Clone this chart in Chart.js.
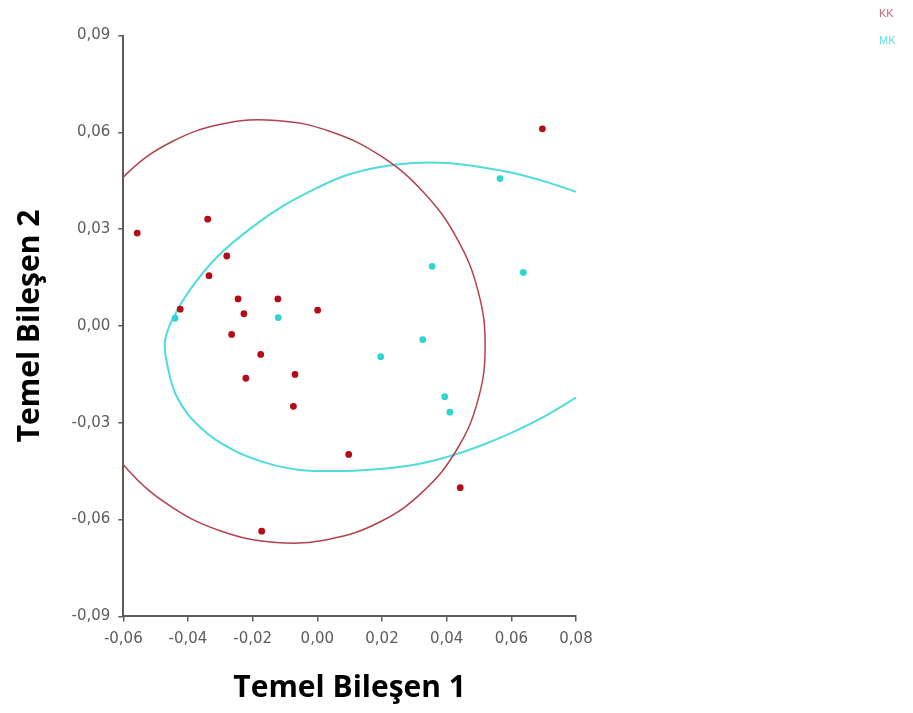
<!DOCTYPE html>
<html>
<head>
<meta charset="utf-8">
<script src="https://cdn.jsdelivr.net/npm/chart.js@4.4.1/dist/chart.umd.min.js"></script>
<style>
  html, body { margin: 0; padding: 0; background: #fff; }
</style>
</head>
<body>
<canvas id="pcaChart" width="913" height="713"></canvas>
<script>
// --- Data ---
const groupNames = ['KK', 'MK'];
const groupColors = ['#b50c1a', '#2fd5d0'];
const legendColors = ['#c46a78', '#5fe2e2'];

// KK scores (Temel Bileşen 1, Temel Bileşen 2)
const kkX = [-0.0557, -0.0339, -0.0280, -0.0335, -0.0424, -0.0245, -0.0227, -0.0122, 0.0001,
             -0.0265, -0.0175, -0.0221, -0.0069, -0.0074, 0.0097, -0.0172, 0.0442, 0.0696];
const kkY = [0.0288, 0.0331, 0.0217, 0.0156, 0.0052, 0.0084, 0.0038, 0.0084, 0.0049,
             -0.0026, -0.0088, -0.0162, -0.0150, -0.0249, -0.0398, -0.0636, -0.0501, 0.0611];

// MK scores
const mkX = [-0.0440, -0.0121, 0.0565, 0.0355, 0.0637, 0.0326, 0.0196, 0.0394, 0.0410];
const mkY = [0.0024, 0.0026, 0.0457, 0.0185, 0.0166, -0.0042, -0.0095, -0.0219, -0.0267];

// KK confidence ellipse, traced all the way round (the part left of -0,06 is clipped)
const kkEllipseX = [-0.0773, -0.0751, -0.0686, -0.0584, -0.0450, -0.0294, -0.0127, 0.0040, 0.0196,
                    0.0329, 0.0432, 0.0497, 0.0519, 0.0497, 0.0432, 0.0329, 0.0196, 0.0040,
                    -0.0127, -0.0294, -0.0450, -0.0584, -0.0686, -0.0751, -0.0773];
const kkEllipseY = [0.0027, 0.0195, 0.0348, 0.0477, 0.0571, 0.0626, 0.0637, 0.0603, 0.0527,
                    0.0414, 0.0271, 0.0109, -0.0062, -0.0229, -0.0382, -0.0511, -0.0606, -0.0660,
                    -0.0671, -0.0637, -0.0561, -0.0448, -0.0305, -0.0143, 0.0027];

// MK confidence ellipse, visible part only (it runs off the right edge)
const mkEllipseX = [0.0800, 0.0710, 0.0605, 0.0503, 0.0401, 0.0296, 0.0194, 0.0092, -0.0001, -0.0106,
                    -0.0208, -0.0310, -0.0394, -0.0446, -0.0471, -0.0465, -0.0434, -0.0363, -0.0261,
                    -0.0156, -0.0054, 0.0092, 0.0194, 0.0296, 0.0401, 0.0503, 0.0605, 0.0710, 0.0800];
const mkEllipseY = [0.0416, 0.0446, 0.0474, 0.0493, 0.0505, 0.0505, 0.0493, 0.0468, 0.0428, 0.0372,
                    0.0301, 0.0214, 0.0112, 0.0025, -0.0046, -0.0115, -0.0220, -0.0313, -0.0384,
                    -0.0425, -0.0446, -0.0449, -0.0443, -0.0431, -0.0406, -0.0372, -0.0329, -0.0276, -0.0222];

const xTickValues = [-0.06, -0.04, -0.02, 0, 0.02, 0.04, 0.06, 0.08];
const xTickLabels = ['-0,06', '-0,04', '-0,02', '0,00', '0,02', '0,04', '0,06', '0,08'];
const yTickValues = [-0.09, -0.06, -0.03, 0, 0.03, 0.06, 0.09];
const yTickLabels = ['-0,09', '-0,06', '-0,03', '0,00', '0,03', '0,06', '0,09'];

const xTitle = 'Temel Bileşen 1';
const yTitle = 'Temel Bileşen 2';

function toPoints(xs, ys) {
  return xs.map((x, i) => ({ x: x, y: ys[i] }));
}

Chart.defaults.font.family = 'DejaVu Sans';

const axisColor = '#5c5c5c';
const tickFont = { family: 'DejaVu Sans', size: 15 };
const titleFont = { family: 'Open Sans', size: 30, weight: 'bold' };

const ctx = document.getElementById('pcaChart').getContext('2d');
const chart = new Chart(ctx, {
  type: 'scatter',
  data: {
    datasets: [
      { label: groupNames[0], data: toPoints(kkX, kkY), backgroundColor: groupColors[0], borderWidth: 0,
        pointRadius: 3.4, pointHoverRadius: 3.4, order: 0 },
      { label: groupNames[1], data: toPoints(mkX, mkY), backgroundColor: groupColors[1], borderWidth: 0,
        pointRadius: 3.4, pointHoverRadius: 3.4, order: 0 },
      { label: 'KK elips', data: toPoints(kkEllipseX, kkEllipseY), showLine: true, pointRadius: 0,
        borderColor: '#b5404e', borderWidth: 1.5, tension: 0.4, fill: false, clip: 0, order: 1 },
      { label: 'MK elips', data: toPoints(mkEllipseX, mkEllipseY), showLine: true, pointRadius: 0,
        borderColor: '#4fdcdc', borderWidth: 2, tension: 0.4, fill: false, clip: 0, order: 1 }
    ]
  },
  options: {
    responsive: false,
    animation: false,
    layout: { padding: { top: 0, right: 7.5, bottom: 0, left: 0 } },
    plugins: {
      // empty title only reserves the space above the plot
      title: { display: true, text: '', font: { size: 10, lineHeight: 1 }, padding: { top: 25.6, bottom: 0 } },
      legend: {
        position: 'right',
        align: 'start',
        maxWidth: 500,
        labels: {
          boxWidth: 297.5,
          boxHeight: 27,
          padding: 0,
          font: { family: 'Liberation Sans', size: 11 },
          generateLabels: () => groupNames.map((name, i) => ({
            text: name, fontColor: legendColors[i], textAlign: 'left',
            fillStyle: 'rgba(0,0,0,0)', strokeStyle: 'rgba(0,0,0,0)', lineWidth: 0,
            hidden: false, datasetIndex: i
          }))
        }
      },
      tooltip: { enabled: false }
    },
    scales: {
      x: {
        type: 'linear', min: -0.06, max: 0.08,
        afterBuildTicks: s => { s.ticks = xTickValues.map(v => ({ value: v })); },
        afterFit: s => { s.height = 96.6; },
        ticks: { callback: (v, i) => xTickLabels[i], color: axisColor, font: tickFont, padding: 9,
                 maxRotation: 0, autoSkip: false },
        grid: { drawOnChartArea: false, drawTicks: true, tickLength: 5, color: axisColor, lineWidth: 1.5 },
        border: { display: true, color: axisColor, width: 2 },
        title: { display: true, text: xTitle, color: '#000', font: titleFont, padding: { top: 0, bottom: 7 } }
      },
      y: {
        type: 'linear', min: -0.09, max: 0.09,
        afterBuildTicks: s => { s.ticks = yTickValues.map(v => ({ value: v })); },
        afterFit: s => { s.width = 123.3; },
        ticks: { callback: (v, i) => yTickLabels[i], color: axisColor, font: tickFont, padding: 8,
                 autoSkip: false },
        grid: { drawOnChartArea: false, drawTicks: true, tickLength: 5, color: axisColor, lineWidth: 1.5 },
        border: { display: true, color: axisColor, width: 2 },
        title: { display: true, text: yTitle, color: '#000', font: titleFont, padding: { top: 12, bottom: 0 } }
      }
    }
  }
});
</script>
</body>
</html>
